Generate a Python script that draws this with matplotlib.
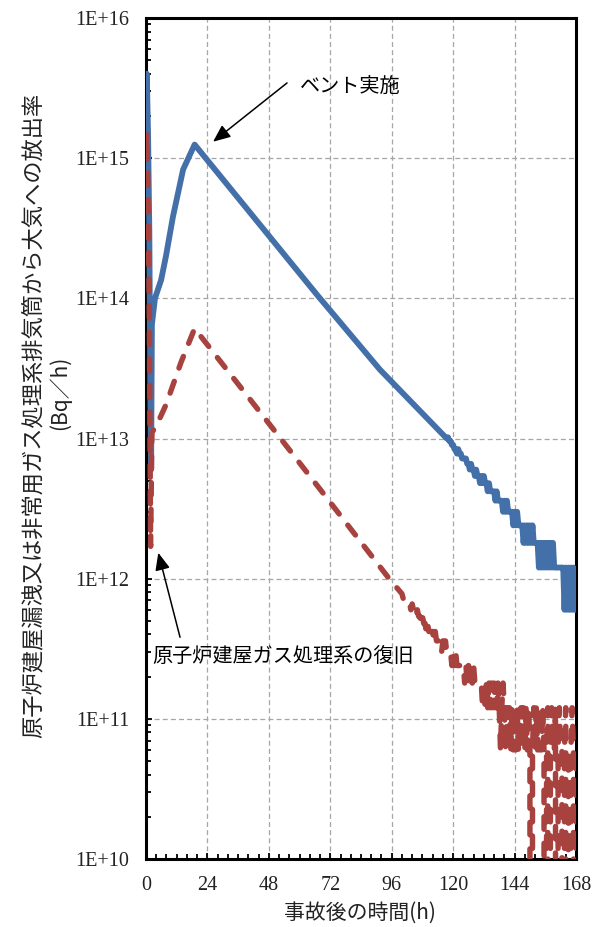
import numpy as np
import matplotlib
matplotlib.use("Agg")
import matplotlib.pyplot as plt
from matplotlib.ticker import LogLocator, MultipleLocator, NullFormatter

# ---------------- data ----------------
# Blue: release via vent (solid line)
blue_main_h = [0.0, 0.3, 0.8, 1.3, 1.7, 2.0, 2.3, 3.5, 5.9, 7.8, 10.5, 14.5,
               19.0, 55.0, 67.0, 91.4, 117.5]
blue_main_v = [2.5e15, 4.0e15, 1.5e15, 3.0e14, 2.0e13, 6.0e12, 6.5e13, 1.0e14,
               1.35e14, 2.0e14, 3.8e14, 8.3e14, 1.25e15, 1.95e14, 1.05e14,
               3.1e13, 1.0e13]
# Blue tail, every 0.5 h from 118 h to 168 h (units of 1e11 Bq/h, quantised data)
blue_tail_e11 = [102, 96, 96, 90, 90, 84, 84, 78, 84, 78,
                 78, 72, 72, 72, 72, 66, 66, 60, 66, 60,
                 60, 54, 60, 54, 54, 48, 54, 48, 54, 48,
                 48, 42, 48, 42, 42, 42, 42, 36, 42, 36,
                 36, 36, 36, 30, 36, 30, 36, 30, 30, 30,
                 30, 24, 30, 24, 30, 24, 24, 24, 24, 18,
                 24, 18, 24, 18, 24, 18, 24, 18, 18, 18,
                 18, 12, 18, 12, 18, 12, 18, 12, 18, 12,
                 18, 12, 18, 12, 12, 12, 12, 12, 12, 12,
                 12, 6, 12, 6, 12, 6, 12, 6, 12, 6, 6]

# Red: release via reactor building / SGTS (dashed line)
red_main_h = [0.0, 0.3, 0.8, 1.3, 1.8, 2.3, 4.3, 7.8, 13.7, 19.0, 50.0, 70.0, 95.0]
red_main_v = [1.2e15, 1.5e15, 6.0e14, 8.0e13, 1.7e12, 1.1e13, 1.26e13, 1.74e13,
              3.5e13, 6.1e13, 1.15e13, 3.9e12, 1.0e12]
# Red tail, every 0.5 h from 100 h to 168 h (units of 1e10 Bq/h, quantised data)
red_tail_e10 = [78, 72, 72, 72, 72, 66, 66, 60, 66, 60,
                60, 54, 60, 54, 54, 48, 54, 48, 48, 42,
                48, 42, 42, 42, 42, 36, 42, 36, 36, 36,
                36, 30, 36, 30, 36, 30, 30, 30, 30, 24,
                30, 24, 30, 24, 24, 24, 24, 24, 24, 18,
                24, 18, 24, 18, 24, 18, 24, 18, 18, 18,
                18, 18, 18, 12, 18, 12, 18, 12, 18, 12,
                18, 12, 18, 12, 12, 18, 12, 6, 12, 18,
                12, 6, 12, 6, 12, 6, 12, 6, 12, 6,
                12, 6,
                6, 12, 6, 12, 6, 12, 6, 12, 6, 0,
                6, 12, 6, 12, 6, 12, 6, 6, 12, 6,
                0, 6, 12, 0, 6, 12, 6, 6, 12, 0,
                6, 12, 6, 6, 0, 6, 12, 0, 6, 0,
                6, 12, 6, 0, 6]

x_ticks = [0, 24, 48, 72, 96, 120, 144, 168]
y_ticks = [1e10, 1e11, 1e12, 1e13, 1e14, 1e15, 1e16]
y_tick_labels = ["1E+10", "1E+11", "1E+12", "1E+13", "1E+14", "1E+15", "1E+16"]

ylabel_line1 = "原子炉建屋漏洩又は非常用ガス処理系排気筒から大気への放出率"
ylabel_line2 = "(Bq／h)"
xlabel = "事故後の時間(h)"
note_vent = "ベント実施"
note_sgts = "原子炉建屋ガス処理系の復旧"

# ---------------- assemble series ----------------
blue_tail_h = np.arange(118.0, 168.0 + 0.25, 0.5)   # sampling grid of the tail
red_tail_h = np.arange(100.0, 168.0 + 0.25, 0.5)
assert len(blue_tail_h) == len(blue_tail_e11)
assert len(red_tail_h) == len(red_tail_e10)

blue_h = np.concatenate([blue_main_h, blue_tail_h])
blue_v = np.concatenate([blue_main_v, np.array(blue_tail_e11, float) * 1e11])
red_h = np.concatenate([red_main_h, red_tail_h])
red_v = np.concatenate([red_main_v, np.array(red_tail_e10, float) * 1e10])

# ---------------- figure ----------------
W, H = 599, 927
fig = plt.figure(figsize=(W / 100, H / 100), dpi=100)
ax = fig.add_axes([146 / W, 1 - 859 / H, 430 / W, 841 / H])

blue_c = "#4470A9"
red_c = "#A8423F"

ax.plot(blue_h, blue_v, color=blue_c, lw=4.2, solid_joinstyle="round",
        solid_capstyle="round", zorder=3)
ax.plot(red_h, red_v, color=red_c, lw=3.9, linestyle=(0, (2.3, 2.6)),
        dash_capstyle="round", dash_joinstyle="round", zorder=4)

ax.set_yscale("log", nonpositive="clip")
ax.set_xlim(0, 168)
ax.set_ylim(1e10, 1e16)

ax.set_xticks(x_ticks)
ax.set_xticklabels([str(v) for v in x_ticks])
ax.set_yticks(y_ticks)
ax.set_yticklabels(y_tick_labels)
ax.xaxis.set_minor_locator(MultipleLocator(4))
ax.yaxis.set_minor_locator(LogLocator(base=10, subs=range(2, 10)))
ax.yaxis.set_minor_formatter(NullFormatter())

ax.grid(True, which="major", color="#A6A6A6", lw=0.9, linestyle=(0, (4, 2.5)))
ax.set_axisbelow(True)

ax.tick_params(which="both", direction="in", width=1.3, colors="black",
               top=False, right=False)
ax.tick_params(which="major", length=4)
ax.tick_params(which="minor", length=3.5)
ax.tick_params(axis="x", pad=12)
ax.tick_params(axis="y", pad=12)
for lab in ax.get_xticklabels() + ax.get_yticklabels():
    lab.set_fontfamily("Liberation Serif")
    lab.set_fontsize(14.5)
    lab.set_color("#222222")

for side in ["left", "bottom", "right", "top"]:
    ax.spines[side].set_color("black")
    ax.spines[side].set_linewidth(2.2)

cjk = ["Noto Sans CJK JP", "DejaVu Sans"]

# y label (two lines, rotated)
fig.text(33 / W, 1 - 415 / H, ylabel_line1, rotation=90, ha="center", va="center",
         family=cjk, fontsize=16, color="#222222")
fig.text(60 / W, 1 - 393 / H, ylabel_line2, rotation=90, ha="center", va="center",
         family=cjk, fontsize=15, color="#222222")
# x label
fig.text(360 / W, 1 - 913 / H, xlabel, ha="center", va="center",
         family=cjk, fontsize=15, color="#222222")

# annotations
arrow_kw = dict(arrowstyle="-|>,head_length=0.7,head_width=0.3", mutation_scale=15,
                lw=1.1, color="black", shrinkA=0, shrinkB=0)
ax.annotate("", xy=(26.2, 1.31e15), xytext=(55.1, 3.44e15), arrowprops=arrow_kw,
            zorder=6)
ax.text(60.2, 3.27e15, note_vent, ha="left", va="center", family=cjk,
        fontsize=14.5, color="black", zorder=6)
ax.annotate("", xy=(4.8, 1.53e12), xytext=(13.3, 3.82e11), arrowprops=arrow_kw,
            zorder=6)
ax.text(2.3, 2.79e11, note_sgts, ha="left", va="center", family=cjk,
        fontsize=14.5, color="black", zorder=6)

fig.savefig("out.png", dpi=100, facecolor="white")
